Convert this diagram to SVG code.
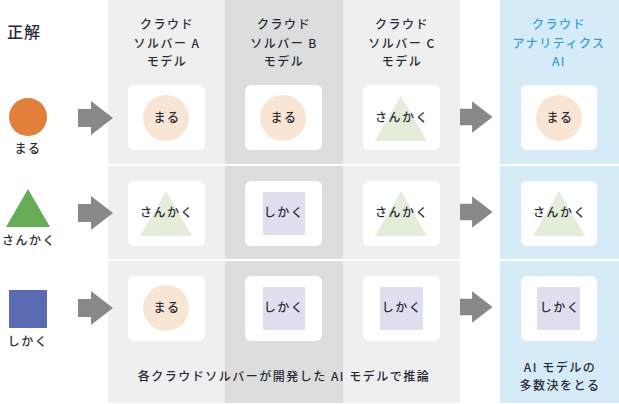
<svg xmlns="http://www.w3.org/2000/svg" width="619" height="404" viewBox="0 0 619 404">
<defs>
<style>
text{font-family:"Noto Sans CJK JP","Noto Sans",sans-serif;fill:#2a2a36;text-anchor:middle;letter-spacing:1.5px;}
.h{font-size:12px;font-weight:500;}
.hb{font-size:12px;font-weight:500;fill:#3aa0d2;}
.l{font-size:12px;font-weight:500;}
.card{fill:#ffffff;}
.c{fill:#f9e5d3;}
.t{fill:#e4edda;}
.s{fill:#e0dff0;}
.arr{fill:#888888;}
.sep{stroke:#ffffff;stroke-width:2;}
</style>
<g id="arrowShape"><path class="arr" d="M0,-9 H13 V-17 L35,0 L13,17 V9 H0 Z"/></g>
</defs>
<g id="panels">
<rect x="108" y="0" width="117" height="403" fill="#efefef"/>
<rect x="225" y="0" width="118" height="403" fill="#dcdddd"/>
<rect x="343" y="0" width="117" height="403" fill="#efefef"/>
<rect x="500" y="0" width="119" height="403" fill="#d5ebf7"/>
<line class="sep" x1="108" y1="165" x2="460" y2="165"/>
<line class="sep" x1="108" y1="260" x2="460" y2="260"/>
<line class="sep" x1="500" y1="165" x2="619" y2="165"/>
<line class="sep" x1="500" y1="260" x2="619" y2="260"/>
</g>
<g id="headers">
<text x="24" y="38" style="font-size:16px;font-weight:500;letter-spacing:1px;">正解</text>
<text class="h" x="167" y="29">クラウド</text>
<text class="h" x="167" y="48">ソルバー A</text>
<text class="h" x="167" y="66">モデル</text>
<text class="h" x="284" y="29">クラウド</text>
<text class="h" x="284" y="48">ソルバー B</text>
<text class="h" x="284" y="66">モデル</text>
<text class="h" x="402" y="29">クラウド</text>
<text class="h" x="402" y="48">ソルバー C</text>
<text class="h" x="402" y="66">モデル</text>
<text class="hb" x="559" y="29">クラウド</text>
<text class="hb" x="559" y="48">アナリティクス</text>
<text class="hb" x="559" y="66">AI</text>
</g>
<g id="truth">
<g id="truth-maru"><circle cx="28" cy="117" r="19" fill="#e2803b"/><text class="l" x="28" y="153">まる</text></g>
<g id="truth-sankaku"><polygon points="28,189 50,227 6,227" fill="#67ad58"/><text class="l" x="29" y="245">さんかく</text></g>
<g id="truth-shikaku"><rect x="9" y="290" width="38" height="38" fill="#5a6ab3"/><text class="l" x="28" y="346">しかく</text></g>
</g>
<g id="connectors">
<use href="#arrowShape" x="78" y="118"/>
<use href="#arrowShape" x="78" y="213"/>
<use href="#arrowShape" x="78" y="308"/>
<use href="#arrowShape" x="460" y="117" transform="translate(460 117) scale(0.93) translate(-460 -117)"/>
<use href="#arrowShape" x="460" y="212" transform="translate(460 212) scale(0.93) translate(-460 -212)"/>
<use href="#arrowShape" x="460" y="307" transform="translate(460 307) scale(0.93) translate(-460 -307)"/>
</g>
<g id="r1a"><rect class="card" x="128" y="85" width="77" height="65" rx="6"/><circle class="c" cx="166" cy="118" r="23"/><text class="l" x="167" y="122">まる</text></g>
<g id="r1b"><rect class="card" x="245" y="85" width="77" height="65" rx="6"/><circle class="c" cx="283" cy="118" r="23"/><text class="l" x="284" y="122">まる</text></g>
<g id="r1c"><rect class="card" x="363" y="85" width="77" height="65" rx="6"/><polygon class="t" points="401,96 427,141 375,141"/><text class="l" x="402" y="122">さんかく</text></g>
<g id="r1ai"><rect class="card" x="521" y="85" width="76" height="65" rx="6"/><circle class="c" cx="559" cy="118" r="23"/><text class="l" x="560" y="122">まる</text></g>
<g id="r2a"><rect class="card" x="128" y="181" width="77" height="65" rx="6"/><polygon class="t" points="166,191 192,236 140,236"/><text class="l" x="167" y="217">さんかく</text></g>
<g id="r2b"><rect class="card" x="245" y="181" width="77" height="65" rx="6"/><rect class="s" x="263" y="192" width="42" height="43"/><text class="l" x="284" y="217">しかく</text></g>
<g id="r2c"><rect class="card" x="363" y="181" width="77" height="65" rx="6"/><polygon class="t" points="401,191 427,236 375,236"/><text class="l" x="402" y="217">さんかく</text></g>
<g id="r2ai"><rect class="card" x="521" y="181" width="76" height="65" rx="6"/><polygon class="t" points="559,191 585,236 533,236"/><text class="l" x="560" y="217">さんかく</text></g>
<g id="r3a"><rect class="card" x="128" y="276" width="77" height="65" rx="6"/><circle class="c" cx="166" cy="308" r="23"/><text class="l" x="167" y="312">まる</text></g>
<g id="r3b"><rect class="card" x="245" y="276" width="77" height="65" rx="6"/><rect class="s" x="263" y="287" width="42" height="43"/><text class="l" x="284" y="312">しかく</text></g>
<g id="r3c"><rect class="card" x="363" y="276" width="77" height="65" rx="6"/><rect class="s" x="380" y="287" width="43" height="43"/><text class="l" x="402" y="312">しかく</text></g>
<g id="r3ai"><rect class="card" x="521" y="276" width="76" height="65" rx="6"/><rect class="s" x="537" y="287" width="43" height="43"/><text class="l" x="560" y="312">しかく</text></g>
<g id="captions">
<text class="l" x="284" y="381">各クラウドソルバーが開発した AI モデルで推論</text>
<text class="l" x="560" y="372">AI モデルの</text>
<text class="l" x="560" y="390">多数決をとる</text>
</g>
</svg>
